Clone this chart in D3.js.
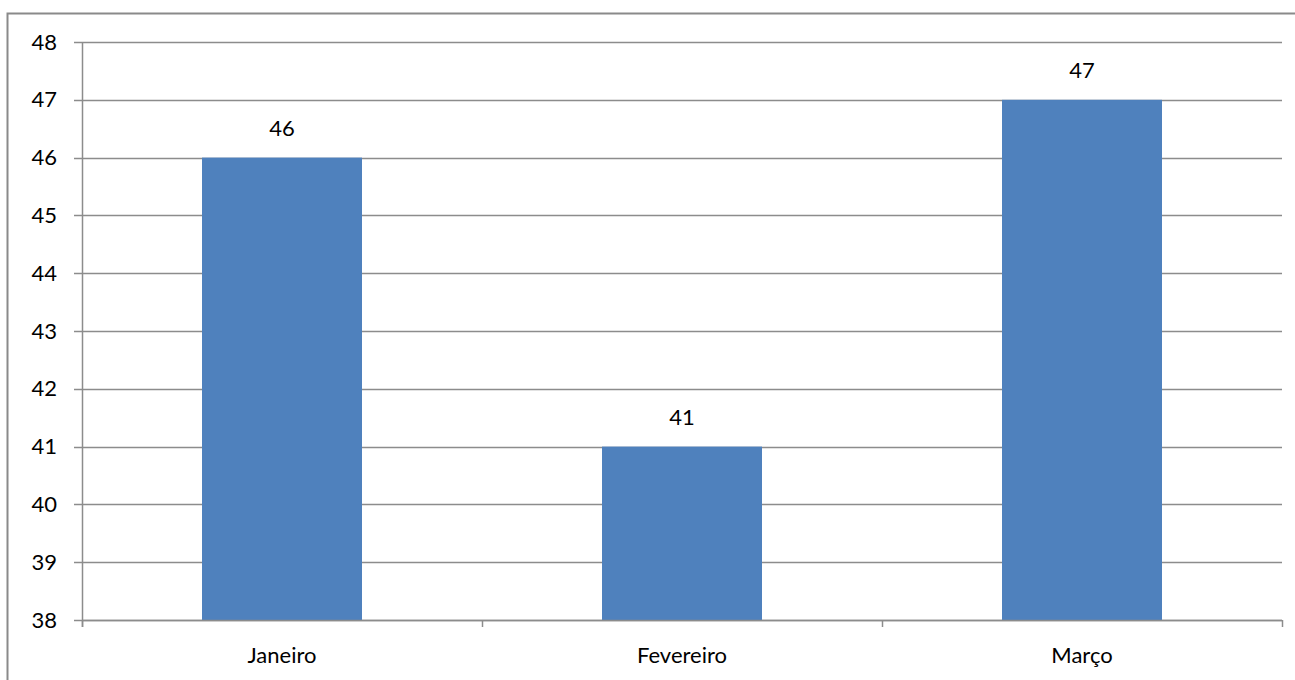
<!DOCTYPE html>
<html>
<head>
<meta charset="utf-8">
<script src="https://cdn.jsdelivr.net/npm/d3@7"></script>
<style>
  body { margin: 0; background: #fff; }
  text { font-family: Lato, "Open Sans", sans-serif; font-size: 22px; fill: #000; }
</style>
</head>
<body>
<div class="chart"></div>
<script>
const months = ["Janeiro", "Fevereiro", "Março"];
const values = [46, 41, 47];
const yTicks = [38, 39, 40, 41, 42, 43, 44, 45, 46, 47, 48];

const margin = ({top: 42, right: 13, bottom: 60, left: 82});
const W = 1295, H = 680;
const width = W - margin.left - margin.right,
      height = H - margin.top - margin.bottom;

const svg = d3.select(".chart").append("svg")
    .attr("width", W)
    .attr("height", H);

// outer frame
svg.append("rect")
    .attr("x", 7.5).attr("y", 13.5)
    .attr("width", W).attr("height", H)
    .attr("fill", "none")
    .attr("stroke", "#8a8a8a")
    .attr("stroke-width", 2);

const g = svg.append("g")
    .attr("transform", "translate(" + margin.left + "," + margin.top + ")");

const xScale = d3.scaleBand()
    .domain(months)
    .range([0, width])
    .paddingInner(0.6)
    .paddingOuter(0.3);

const yScale = d3.scaleLinear()
    .domain([38, 48])
    .range([height, 0]);

// gridlines
g.selectAll(".grid")
    .data(yTicks)
    .enter()
    .append("line")
    .attr("x1", -8)
    .attr("x2", width)
    .attr("y1", d => Math.round(yScale(d)) + 0.5)
    .attr("y2", d => Math.round(yScale(d)) + 0.5)
    .attr("stroke", "#8c8c8c")
    .attr("stroke-width", 1.5);

// bars
g.selectAll(".bar")
    .data(values)
    .enter()
    .append("rect")
    .attr("x", (d, i) => xScale(months[i]))
    .attr("y", d => yScale(d))
    .attr("width", xScale.bandwidth())
    .attr("height", d => height - yScale(d))
    .attr("fill", "#4f81bd");

// value labels
g.selectAll(".val")
    .data(values)
    .enter()
    .append("text")
    .attr("x", (d, i) => xScale(months[i]) + xScale.bandwidth() / 2)
    .attr("y", d => yScale(d) - 22)
    .attr("text-anchor", "middle")
    .text(d => d);

// y axis
const yAxis = d3.axisLeft(yScale).tickValues(yTicks).tickSize(0).tickPadding(25);
g.append("g").attr("class", "axis y-axis").call(yAxis)
    .call(a => a.select(".domain").remove());

g.append("line")
    .attr("x1", 0.5).attr("x2", 0.5)
    .attr("y1", 0).attr("y2", height + 7)
    .attr("stroke", "#8c8c8c").attr("stroke-width", 1.5);

// x axis
g.append("line")
    .attr("x1", 0).attr("x2", width)
    .attr("y1", height + 0.5).attr("y2", height + 0.5)
    .attr("stroke", "#8c8c8c").attr("stroke-width", 1.5);

const bounds = [0, 1, 2, 3].map(i => i * width / 3);
g.selectAll(".xtick")
    .data(bounds)
    .enter()
    .append("line")
    .attr("x1", d => Math.round(d) + 0.5)
    .attr("x2", d => Math.round(d) + 0.5)
    .attr("y1", height)
    .attr("y2", height + 7)
    .attr("stroke", "#8c8c8c").attr("stroke-width", 1.5);

g.selectAll(".xlab")
    .data(months)
    .enter()
    .append("text")
    .attr("x", d => xScale(d) + xScale.bandwidth() / 2)
    .attr("y", height + 43)
    .attr("text-anchor", "middle")
    .text(d => d);

g.selectAll(".y-axis text")
    .style("font-family", "Lato, 'Open Sans', sans-serif")
    .style("font-size", "22px")
    .attr("fill", "#000");
</script>
</body>
</html>
